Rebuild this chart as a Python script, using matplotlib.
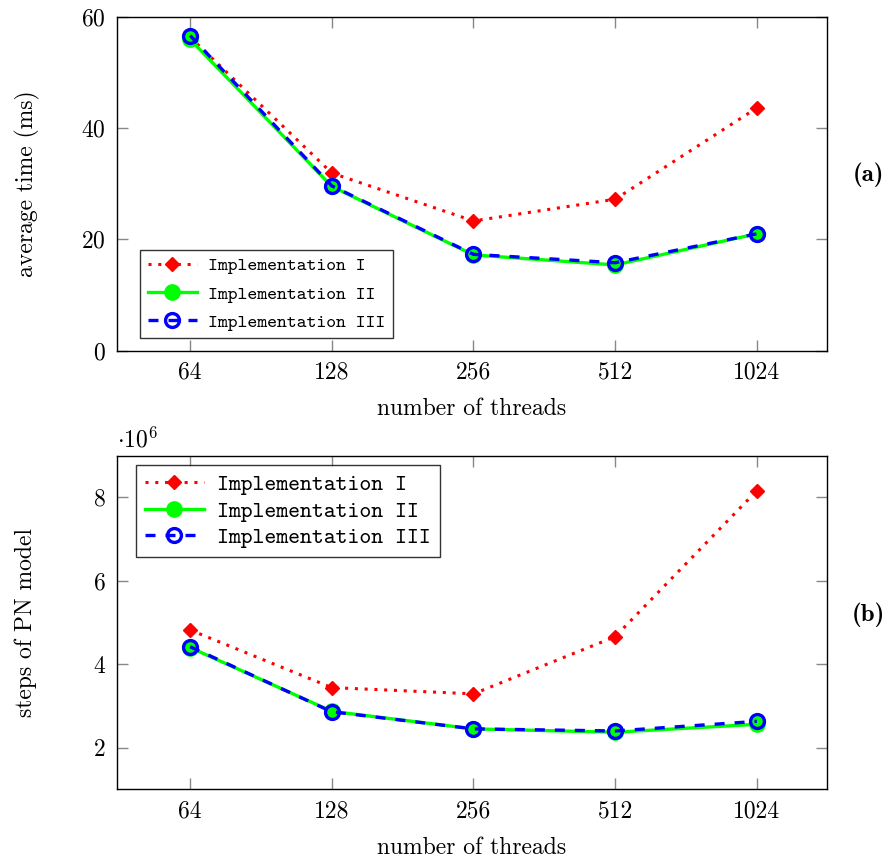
import matplotlib
matplotlib.use("Agg")
import matplotlib.pyplot as plt

plt.rcParams["font.family"] = ["cmr10", "DejaVu Serif"]
plt.rcParams["mathtext.fontset"] = "cm"
plt.rcParams["axes.formatter.use_mathtext"] = True

threads = [64, 128, 256, 512, 1024]
labels = ["Implementation I", "Implementation II", "Implementation III"]

# (a) average time in ms
time_impl1 = [56.3, 31.9, 23.3, 27.2, 43.6]
time_impl2 = [55.9, 29.5, 17.2, 15.4, 21.0]
time_impl3 = [56.6, 29.6, 17.3, 15.8, 21.0]

# (b) steps of PN model, in millions
steps_impl1 = [4.82, 3.44, 3.29, 4.66, 8.16]
steps_impl2 = [4.40, 2.87, 2.45, 2.37, 2.56]
steps_impl3 = [4.42, 2.86, 2.45, 2.40, 2.63]

styles = [
    dict(color="red", linestyle=(0, (1, 2.2)), linewidth=2.2, marker="D",
         markersize=7.5, markerfacecolor="red", markeredgecolor="red"),
    dict(color="#00ff00", linestyle="-", linewidth=2.4, marker="o",
         markersize=11, markerfacecolor="#00ff00", markeredgecolor="#00ff00"),
    dict(color="blue", linestyle=(0, (3, 3)), linewidth=2.4, marker="o",
         markersize=10, markerfacecolor="none", markeredgecolor="blue",
         markeredgewidth=2.4),
]

fig = plt.figure(figsize=(8.92, 8.61), dpi=100)
ax1 = fig.add_axes([0.1312, 0.5927, 0.796, 0.388])
ax2 = fig.add_axes([0.1312, 0.0832, 0.796, 0.3876])


def style_axes(ax):
    ax.set_xscale("log", base=2)
    ax.set_xlim(64 / 1.43, 1024 * 1.41)
    ax.set_xticks(threads)
    ax.set_xticklabels([str(t) for t in threads])
    ax.minorticks_off()
    ax.tick_params(direction="in", length=8, width=1, color="#888888",
                   top=True, right=True, labelsize=17, pad=8)
    for s in ax.spines.values():
        s.set_linewidth(1.0)
    ax.set_xlabel("number of threads", fontsize=17, labelpad=10)


for ys, lab, st in zip([time_impl1, time_impl2, time_impl3], labels, styles):
    ax1.plot(threads, ys, label=lab, **st)
style_axes(ax1)
ax1.set_ylim(0, 60)
ax1.set_yticks([0, 20, 40, 60])
ax1.set_ylabel("average time (ms)", fontsize=17, labelpad=30)
ax1.legend(loc="lower left", prop={"family": "cmtt10", "size": 13.5},
           frameon=True, fancybox=False, edgecolor="black",
           bbox_to_anchor=(0.025, 0.02), borderaxespad=0.3,
           handlelength=2.6, labelspacing=0.6, handletextpad=0.6)
ax1.get_legend().get_frame().set_linewidth(1.0)

for ys, lab, st in zip([steps_impl1, steps_impl2, steps_impl3], labels, styles):
    ax2.plot(threads, ys, label=lab, **st)
style_axes(ax2)
ax2.set_ylim(1, 9)
ax2.set_yticks([2, 4, 6, 8])
ax2.set_ylabel("steps of PN model", fontsize=17, labelpad=40)
ax2.text(0.0, 1.01, r"$\cdot 10^6$", transform=ax2.transAxes,
         fontsize=17, ha="left", va="bottom")
ax2.legend(loc="upper left", prop={"family": "cmtt10", "size": 16.3},
           frameon=True, fancybox=False, edgecolor="black",
           bbox_to_anchor=(0.02, 0.985), borderaxespad=0.2,
           handlelength=2.6, labelspacing=0.25, handletextpad=0.6)
ax2.get_legend().get_frame().set_linewidth(1.0)

fig.text(868 / 892, 1 - 175 / 861, "(a)", fontsize=18, family="cmb10",
         ha="center", va="center")
fig.text(868 / 892, 1 - 615 / 861, "(b)", fontsize=18, family="cmb10",
         ha="center", va="center")

fig.savefig("out.png", dpi=100)
